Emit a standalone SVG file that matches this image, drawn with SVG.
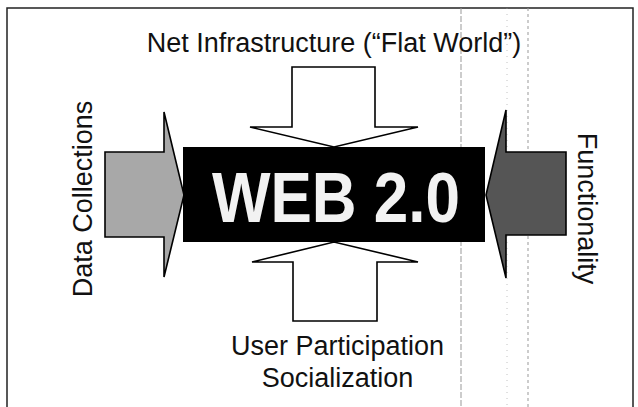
<svg xmlns="http://www.w3.org/2000/svg" width="638" height="407" viewBox="0 0 638 407">
  <style>
    .label { font-family: "Liberation Sans", Arial, sans-serif; font-size: 27px; fill: #111; }
    .arrow { stroke: #000; stroke-width: 1.6; stroke-linejoin: miter; }
    .frame { stroke: #222; stroke-width: 1.5; fill: none; }
    .streak { stroke: #999; stroke-width: 1; fill: none; }
  </style>
  <rect width="638" height="407" fill="#fff"/>

  <!-- page frame -->
  <g id="frame">
    <polyline class="frame" points="7,407 7,8 633,8 633,407"/>
    <line class="streak" x1="461" y1="8" x2="461" y2="407" stroke-dasharray="6 2"/>
    <line class="streak" x1="528" y1="8" x2="528" y2="407" stroke-dasharray="3 3"/>
    <line class="streak" x1="507" y1="8" x2="507" y2="407" stroke-dasharray="1 5" opacity="0.6"/>
  </g>

  <!-- arrows pointing into the central box -->
  <g id="connectors">
    <polygon id="arrow-top" class="arrow" fill="#fff"
      points="292,67 375,67 375,127 418,127 334,147 250,127 292,127"/>
    <polygon id="arrow-bottom" class="arrow" fill="#fff"
      points="293,321 377,321 377,262 418,262 334,242 252,262 293,262"/>
    <polygon id="arrow-left" class="arrow" fill="#a8a8a8"
      points="105,152 164,152 164,112 184,195 164,277 164,237 105,237"/>
    <polygon id="arrow-right" class="arrow" fill="#555"
      points="566,152 506,152 506,110 486,195 506,278 506,235 566,235"/>
  </g>

  <!-- central node -->
  <g id="web20">
    <rect x="183" y="147" width="302" height="95" fill="#000"/>
    <text x="336" y="222" text-anchor="middle" font-family="'Liberation Sans', Arial, sans-serif"
      font-weight="bold" font-size="70" fill="#f2f2f2" textLength="248" lengthAdjust="spacingAndGlyphs">WEB 2.0</text>
  </g>

  <g id="net-infrastructure">
    <text class="label" x="334" y="52" text-anchor="middle">Net Infrastructure (“Flat World”)</text>
  </g>

  <g id="user-participation">
    <text class="label" x="337.5" y="355" text-anchor="middle">User Participation</text>
    <text class="label" x="337.5" y="387" text-anchor="middle">Socialization</text>
  </g>

  <g id="data-collections">
    <text class="label" text-anchor="middle" transform="translate(92,199) rotate(-90)">Data Collections</text>
  </g>

  <g id="functionality">
    <text class="label" text-anchor="middle" transform="translate(578,208.5) rotate(90)">Functionality</text>
  </g>
</svg>
